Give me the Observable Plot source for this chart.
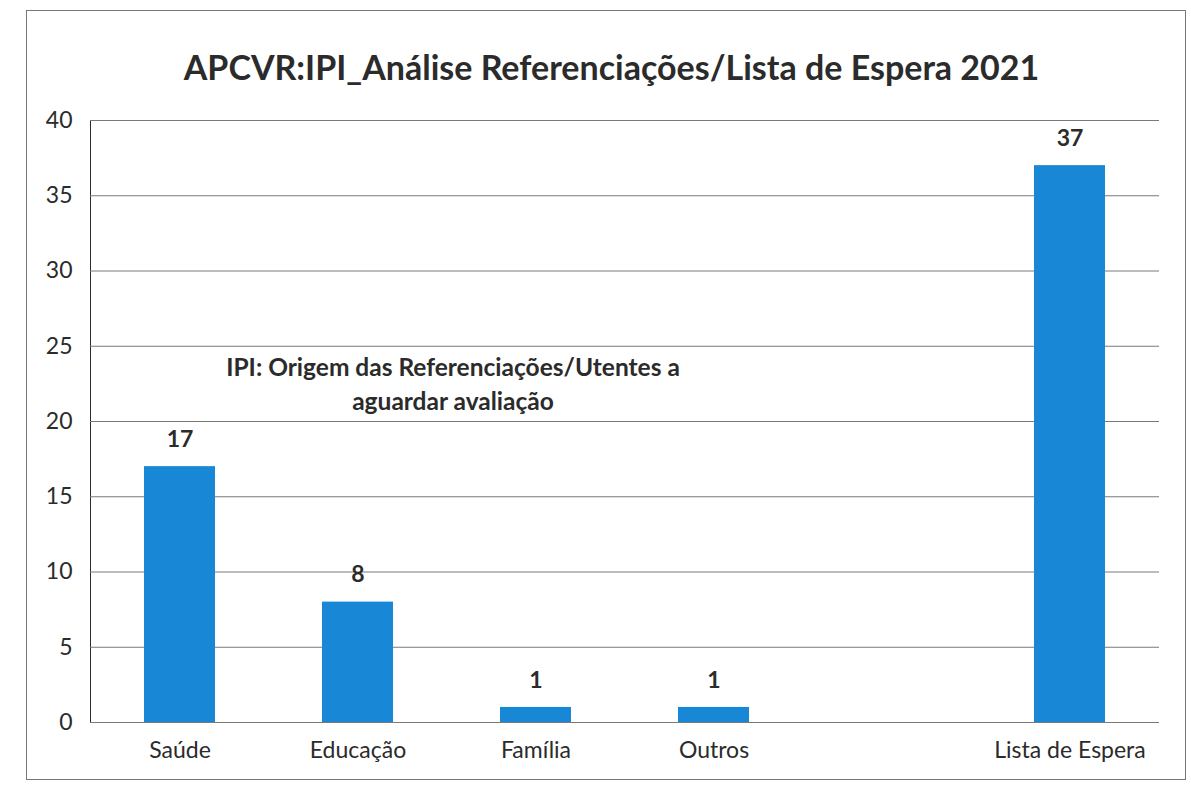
<!DOCTYPE html>
<html>
<head>
<meta charset="utf-8">
<script src="https://cdn.jsdelivr.net/npm/d3@7"></script>
<script src="https://cdn.jsdelivr.net/npm/@observablehq/plot@0.6"></script>
<style>
  html, body { margin: 0; padding: 0; background: #fff; }
  #page { position: relative; width: 1191px; height: 794px; overflow: hidden; font-family: Lato, "Open Sans", sans-serif; }
  #frame { position: absolute; left: 26px; top: 10px; width: 1160px; height: 770px; border: 1px solid #777; box-sizing: border-box; }
  #chart { position: absolute; left: 0; top: 0; width: 1191px; }
  #title { height: 100px; box-sizing: border-box; padding-top: 48px; text-align: center; font-weight: bold; font-size: 34px; line-height: 38px; color: #2b2b2b; padding-left: 32px; }
  svg { display: block; }
</style>
</head>
<body>
<div id="page">
  <div id="frame"></div>
  <div id="chart">
    <div id="title"></div>
  </div>
</div>
<script>
const titleText = "APCVR:IPI_Análise Referenciações/Lista de Espera 2021";
const categories = ["Saúde", "Educação", "Família", "Outros", "Lista de Espera"];
const values = [17, 8, 1, 1, 37];
const valueLabels = ["17", "8", "1", "1", "37"];
const xSlots = ["Saúde", "Educação", "Família", "Outros", "", "Lista de Espera"];
const yTicks = [0, 5, 10, 15, 20, 25, 30, 35, 40];
const annotationText = "IPI: Origem das Referenciações/Utentes a\naguardar avaliação";
const annotationAnchorCategory = "Educação";
const annotationAnchorValue = 22.6;

document.getElementById("title").textContent = titleText;

const data = categories.map((c, i) => ({category: c, value: values[i], label: valueLabels[i]}));
const textColor = "#2b2b2b";

const chart = Plot.plot({
  width: 1191,
  height: 694,
  marginTop: 20,
  marginBottom: 72,
  marginLeft: 90,
  marginRight: 32,
  style: {fontFamily: "Lato, 'Open Sans', sans-serif", fontSize: "23px", color: textColor, background: "transparent"},
  x: {domain: xSlots, paddingInner: 0.6, paddingOuter: 0.3, label: null, tickSize: 0, tickPadding: 19, tickFormat: d => d},
  y: {domain: [0, 40], ticks: yTicks, label: null, tickSize: 0, tickPadding: 18, line: true},
  marks: [
    Plot.gridY(yTicks, {stroke: "#7a7a7a", strokeOpacity: 1, strokeWidth: 1}),
    Plot.barY(data, {x: "category", y: "value", fill: "#1787d6"}),
    Plot.text(data, {x: "category", y: "value", text: "label", dy: -27, fontWeight: "bold", fontSize: 23, fill: textColor}),
    Plot.text([annotationText], {x: () => annotationAnchorCategory, y: () => annotationAnchorValue, text: d => d, dx: 95, fontWeight: "bold", fontSize: 24.5, lineHeight: 1.38, fill: textColor})
  ]
});
document.getElementById("chart").appendChild(chart);
</script>
</body>
</html>
